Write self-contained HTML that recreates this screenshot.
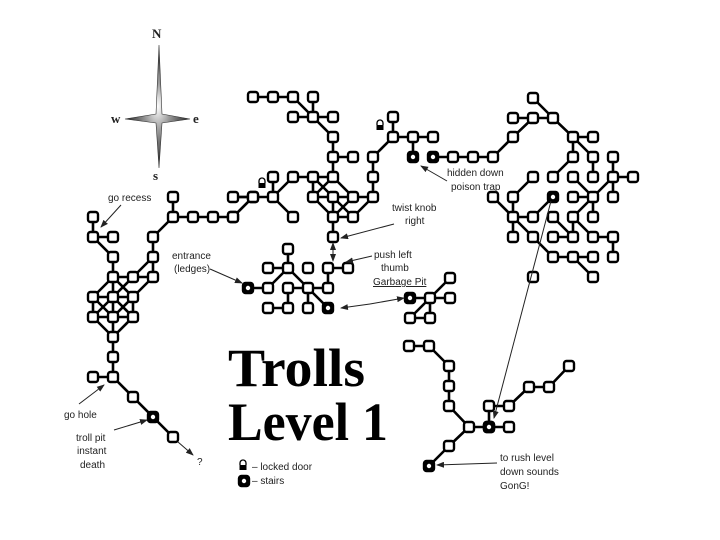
<!DOCTYPE html>
<html><head><meta charset="utf-8"><style>
html,body{margin:0;padding:0;background:#fff;}
svg{display:block;}
.t{font-family:"Liberation Sans",sans-serif;font-size:10px;fill:#222;}
.big{font-family:"Liberation Serif",serif;font-weight:bold;font-size:54px;fill:#000;}
.cp{font-family:"Liberation Serif",serif;font-weight:bold;font-size:13px;fill:#222;}
</style></head><body>
<svg id="s" width="720" height="540" viewBox="0 0 720 540" xmlns="http://www.w3.org/2000/svg">
<defs>
<radialGradient id="g" cx="50%" cy="50%" r="50%"><stop offset="0" stop-color="#fff"/><stop offset="0.4" stop-color="#999"/><stop offset="1" stop-color="#222"/></radialGradient>
<marker id="ah" markerWidth="8" markerHeight="6" refX="7" refY="3" orient="auto"><path d="M0,0 L8,3 L0,6 z" fill="#222"/></marker>
</defs>
<g id="edges" stroke="#000" stroke-width="2.6" fill="none"></g>
<g id="nodes"></g>
<path d="M159,45 L162,114 L190,119 L162,123 L159,168 L156,123 L125,119 L156,114 Z" fill="url(#g)" stroke="#333" stroke-width="0.6"/>
<text class="cp" x="152" y="38">N</text>
<text class="cp" x="111" y="123">w</text>
<text class="cp" x="193" y="123">e</text>
<text class="cp" x="153" y="180">s</text>
<text class="big" x="228" y="386" textLength="137" lengthAdjust="spacingAndGlyphs">Trolls</text>
<text class="big" x="228" y="440" textLength="160" lengthAdjust="spacingAndGlyphs">Level 1</text>
<g stroke="#222" stroke-width="1" marker-end="url(#ah)">
<line x1="121" y1="205" x2="101" y2="227"/>
<line x1="210" y1="269" x2="242" y2="283"/>
<line x1="394" y1="224" x2="341" y2="238"/>
<line x1="372" y1="256" x2="346" y2="262"/>
<line x1="447" y1="181" x2="421" y2="166"/>
<line x1="79" y1="404" x2="104" y2="385"/>
<line x1="114" y1="430" x2="147" y2="420"/>
<line x1="178" y1="442" x2="193" y2="455"/>
<line x1="497" y1="463" x2="437" y2="465"/>
<line x1="551" y1="201" x2="494" y2="418"/>
<line x1="333" y1="251" x2="333" y2="243"/>
<line x1="333" y1="251" x2="333" y2="261"/>
<line x1="370" y1="304" x2="341" y2="308"/>
<line x1="370" y1="304" x2="404" y2="298"/>
</g>
<text class="t" x="108" y="201">go recess</text>
<text class="t" x="172" y="259">entrance</text>
<text class="t" x="174" y="272">(ledges)</text>
<text class="t" x="392" y="211">twist knob</text>
<text class="t" x="405" y="224">right</text>
<text class="t" x="374" y="258">push left</text>
<text class="t" x="381" y="271">thumb</text>
<text class="t" x="373" y="285" text-decoration="underline">Garbage Pit</text>
<text class="t" x="447" y="176">hidden down</text>
<text class="t" x="451" y="190">poison trap</text>
<text class="t" x="64" y="418">go hole</text>
<text class="t" x="76" y="441">troll pit</text>
<text class="t" x="77" y="454">instant</text>
<text class="t" x="80" y="468">death</text>
<text class="t" x="197" y="465">?</text>
<text class="t" x="500" y="461">to rush level</text>
<text class="t" x="500" y="475">down sounds</text>
<text class="t" x="500" y="489">GonG!</text>
<text class="t" x="252" y="470">–  locked door</text>
<text class="t" x="252" y="484">–  stairs</text>
</svg>
<script>
var E=document.getElementById('edges'),N=document.getElementById('nodes'),ns='http://www.w3.org/2000/svg';
function L(a){for(var i=0;i+3<a.length;i+=2){var l=document.createElementNS(ns,'line');l.setAttribute('x1',a[i]);l.setAttribute('y1',a[i+1]);l.setAttribute('x2',a[i+2]);l.setAttribute('y2',a[i+3]);E.appendChild(l);}}
function n(x,y,st){var r=document.createElementNS(ns,'rect');r.setAttribute('x',x-5);r.setAttribute('y',y-5);r.setAttribute('width',10);r.setAttribute('height',10);r.setAttribute('rx',2.5);r.setAttribute('fill',st?'#000':'#fff');r.setAttribute('stroke','#000');r.setAttribute('stroke-width',2.4);N.appendChild(r);if(st){var c=document.createElementNS(ns,'circle');c.setAttribute('cx',x);c.setAttribute('cy',y);c.setAttribute('r',2.2);c.setAttribute('fill','#fff');N.appendChild(c);}}
function lock(x,y){var p=document.createElementNS(ns,'path');p.setAttribute('d','M'+(x-3)+','+(y-1)+' v-2 a3,3 0 0 1 6,0 v2');p.setAttribute('stroke','#000');p.setAttribute('fill','none');p.setAttribute('stroke-width','1.3');N.appendChild(p);var r=document.createElementNS(ns,'rect');r.setAttribute('x',x-3.5);r.setAttribute('y',y-1);r.setAttribute('width',7);r.setAttribute('height',5);r.setAttribute('fill','#000');N.appendChild(r);}
// top-middle cluster
L([253,97,273,97,293,97,313,117]);L([313,97,313,117]);L([293,117,333,117]);L([313,117,333,137,333,177]);L([333,157,353,157]);
L([233,197,273,197]);L([253,197,233,217]);L([273,197,293,217]);L([273,197,293,177,333,177]);L([273,177,273,197]);
L([313,177,333,197]);L([333,177,313,197]);L([313,197,373,197]);L([313,177,313,197]);L([333,177,353,197]);
L([333,197,333,237]);L([313,197,333,217]);L([333,197,353,217]);L([353,197,333,217]);L([373,197,353,217]);L([333,217,353,217]);
L([373,157,373,197]);L([373,157,393,137,433,137]);L([393,117,393,137]);L([413,137,413,157]);
// right cluster
L([433,157,493,157,513,137,533,118,553,118]);L([513,118,533,118]);L([533,98,553,118,573,137,593,137]);L([573,137,573,157,553,177]);
L([573,137,593,157,593,177]);L([613,157,613,197]);L([613,177,633,177]);
L([613,177,593,197]);L([573,177,593,197]);L([573,197,593,197,593,217]);L([593,197,573,217,573,237]);L([553,217,573,237]);L([553,237,573,237]);
L([573,217,593,237,613,237,613,257]);L([553,257,593,257]);L([533,237,553,257]);L([573,257,593,277]);
L([533,177,513,197,513,237]);L([493,197,513,217,533,217,553,197]);L([513,217,533,237]);
// left
L([173,197,173,217,233,217,253,197,233,197]);L([173,217,153,237,153,277]);L([153,257,133,277]);
L([93,217,93,237,113,237]);L([93,237,113,257,113,277,153,277]);
L([113,277,93,297]);L([113,277,133,297]);L([133,277,113,297]);L([153,277,133,297]);L([113,277,113,297]);
L([93,297,133,297]);L([93,297,93,317]);L([113,297,113,317]);L([133,297,133,317]);
L([93,297,113,317]);L([113,297,93,317]);L([113,297,133,317]);L([133,297,113,317]);L([93,317,133,317]);
L([93,317,113,337]);L([133,317,113,337]);L([113,317,113,377]);L([93,377,113,377,173,437]);
// center
L([288,249,288,268]);L([268,268,288,268,308,288]);L([248,288,268,288,288,268]);L([288,288,328,288]);L([328,268,348,268]);L([328,268,328,288]);
L([288,288,288,308]);L([268,308,288,308]);L([308,288,308,308]);L([308,288,328,308]);
L([410,298,450,298]);L([430,298,450,278]);L([430,298,430,318,410,318,430,298]);
// bottom right
L([409,346,429,346,449,366,449,406,469,427,509,427]);L([489,406,489,427]);L([489,406,509,406,529,387,549,387,569,366]);L([469,427,449,446,429,466]);
var nodes=[253,97,273,97,293,97,313,97,293,117,313,117,333,117,333,137,333,157,353,157,293,177,313,177,333,177,273,177,
233,197,253,197,273,197,313,197,333,197,353,197,373,197,233,217,293,217,333,217,353,217,333,237,373,157,373,177,393,137,393,117,413,137,433,137,
453,157,473,157,493,157,513,137,513,118,533,118,553,118,533,98,573,137,593,137,573,157,593,157,613,157,
533,177,553,177,573,177,593,177,613,177,633,177,
493,197,513,197,573,197,593,197,613,197,513,217,533,217,553,217,573,217,593,217,513,237,533,237,553,237,573,237,593,237,613,237,553,257,573,257,593,257,613,257,533,277,593,277,
173,197,173,217,193,217,213,217,233,217,253,197,153,237,153,257,153,277,93,217,93,237,113,237,113,257,113,277,133,277,93,297,113,297,133,297,93,317,113,317,133,317,113,337,113,357,113,377,93,377,133,397,173,437,
288,249,268,268,288,268,308,268,328,268,348,268,268,288,288,288,308,288,328,288,268,308,288,308,308,308,430,298,450,298,450,278,410,318,430,318,
409,346,429,346,449,366,449,386,449,406,469,427,489,427,509,427,489,406,509,406,529,387,549,387,569,366,449,446];
for(var i=0;i<nodes.length;i+=2)n(nodes[i],nodes[i+1],0);
var stairs=[413,157,433,157,553,197,153,417,248,288,328,308,410,298,489,427,429,466,244,481];
for(var i=0;i<stairs.length;i+=2)n(stairs[i],stairs[i+1],1);
lock(262,184);lock(380,126);lock(243,466);
</script>
</body></html>
